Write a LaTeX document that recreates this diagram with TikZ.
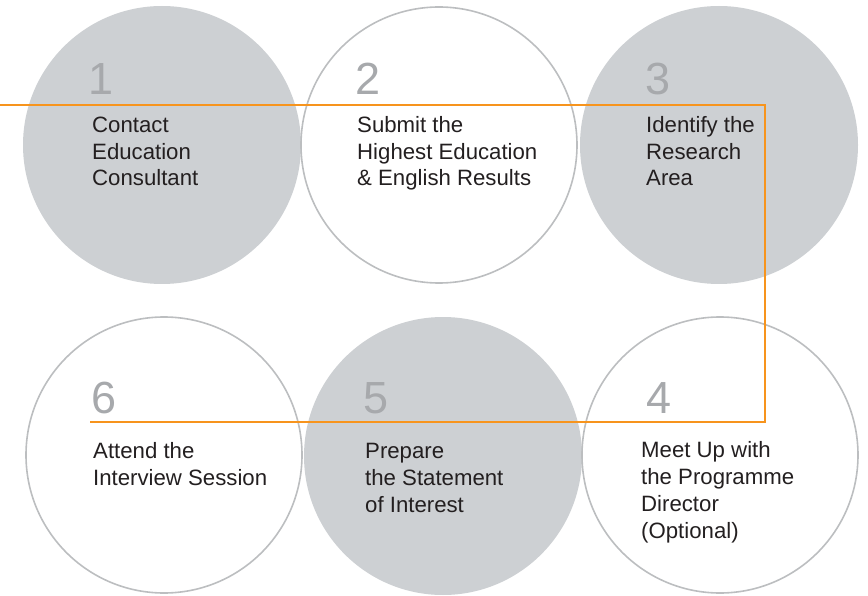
\documentclass[tikz,border=0pt]{standalone}
\usepackage{fontspec}
\setmainfont{Liberation Sans}
\definecolor{discfill}{HTML}{CDD0D3}
\definecolor{ringline}{HTML}{BCBEC0}
\definecolor{pathorange}{HTML}{F7941D}
\definecolor{numgray}{HTML}{A7A9AC}
\definecolor{bodytext}{HTML}{231F20}
\begin{document}
\begin{tikzpicture}[x=1pt,y=-1pt,
  disc/.style={circle,fill=discfill,draw=none,minimum size=278pt,inner sep=0pt},
  ring/.style={circle,draw=ringline,line width=1.6pt,fill=none,minimum size=276pt,inner sep=0pt},
  stepnum/.style={anchor=base west,inner sep=0pt,text=numgray,font=\fontsize{45}{45}\selectfont},
  steptext/.style={anchor=base west,inner sep=0pt,align=left,text=bodytext,font=\fontsize{22.2}{26.8}\selectfont},
  flow/.style={draw=pathorange,line width=1.8pt,line join=miter}]
\useasboundingbox (0,0) rectangle (868,596);
% circles
\node[disc] (c1) at (162,145) {};
\node[ring] (c2) at (439,145) {};
\node[disc] (c3) at (719,145) {};
\node[ring] (c6) at (164,455) {};
\node[disc] (c5) at (443,456) {};
\node[ring] (c4) at (720,455) {};
% orange path
\coordinate (p0) at (0,105);
\coordinate (p1) at (765,105);
\coordinate (p2) at (765,422);
\coordinate (p3) at (90,422);
\draw[flow] (p0) -- (p1) -- (p2) -- (p3);
% numbers
\node[stepnum] (n1) at (88,95) {1};
\node[stepnum] (n2) at (355,95) {2};
\node[stepnum] (n3) at (645,95) {3};
\node[stepnum] (n6) at (91,413) {6};
\node[stepnum] (n5) at (363,413) {5};
\node[stepnum] (n4) at (646,413) {4};
% texts (anchored at the baseline of the last line)
\node[steptext] (t1) at (92,186) {Contact\\Education\\Consultant};
\node[steptext] (t2) at (357,186) {Submit the\\Highest Education\\\& English Results};
\node[steptext] (t3) at (646,186) {Identify the\\Research\\Area};
\node[steptext] (t6) at (93,485) {Attend the\\Interview Session};
\node[steptext] (t5) at (365,512) {Prepare\\the Statement\\of Interest};
\node[steptext] (t4) at (641,538) {Meet Up with\\the Programme\\Director\\(Optional)};
\end{tikzpicture}
\end{document}
